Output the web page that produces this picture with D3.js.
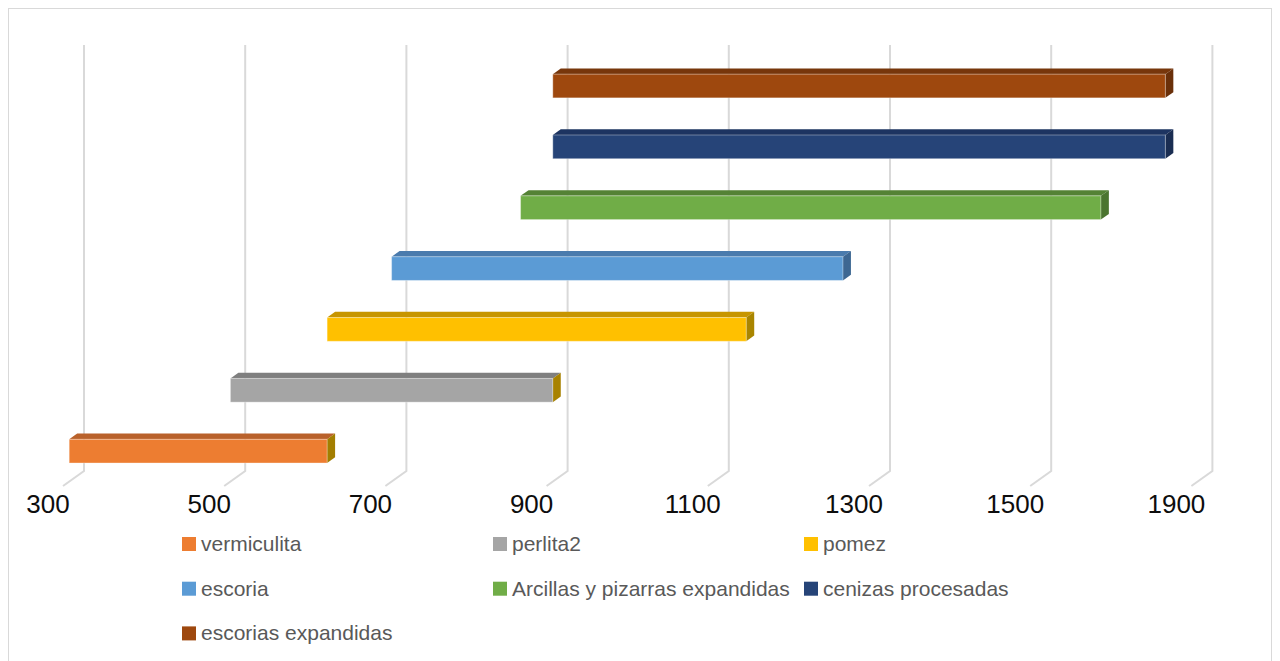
<!DOCTYPE html>
<html>
<head>
<meta charset="utf-8">
<script src="https://cdn.jsdelivr.net/npm/d3@7"></script>
<style>
  html, body { margin: 0; padding: 0; background: #fff; }
  svg { display: block; }
</style>
</head>
<body>
<svg id="chart" width="1280" height="661"></svg>
<script>
// ---------- data ----------
const categories = ["vermiculita", "perlita2", "pomez", "escoria",
  "Arcillas y pizarras expandidas", "cenizas procesadas", "escorias expandidas"];
const startValues = [300, 500, 620, 700, 860, 900, 900];
const endValues   = [620, 900, 1140, 1260, 1580, 1660, 1660];
const tickValues  = [300, 500, 700, 900, 1100, 1300, 1500, 1700];
const tickLabels  = ["300", "500", "700", "900", "1100", "1300", "1500", "1900"];

// ---------- styles ----------
const frontColors = ["#ED7D31", "#A5A5A5", "#FFC000", "#5B9BD5", "#70AD47", "#264478", "#9E480E"];
const topColors   = ["#B9612A", "#7F7F7F", "#C79500", "#4A7BAD", "#548235", "#1D3461", "#77360B"];
const sideColors  = ["#A37E00", "#A88200", "#A98500", "#3D6792", "#4B7530", "#1A2D52", "#6A300A"];

const svg = d3.select("#chart");

// outer chart border
svg.append("rect")
  .attr("x", 8.5).attr("y", 8.5).attr("width", 1263).attr("height", 700)
  .attr("fill", "none").attr("stroke", "#D9D9D9").attr("stroke-width", 1);

// back plane geometry
const backTop = 45, backBottom = 471;
const floorDx = -21, floorDy = 15;      // full depth vector (back -> front)
const fFront = 0.705, fBack = 0.325;     // bar depth fractions

const x = d3.scaleLinear().domain([300, 1700]).range([84, 1212.4]);
const y = d3.scaleBand().domain(categories.slice().reverse()).range([backTop, backBottom]).padding(0);
const barFrac = 0.39;

// gridlines (wall + floor)
const grid = svg.append("g");
tickValues.forEach(v => {
  const gx = x(v);
  grid.append("path")
    .attr("d", `M${gx},${backTop} L${gx},${backBottom} L${gx + floorDx},${backBottom + floorDy}`)
    .attr("fill", "none").attr("stroke", "#D9D9D9").attr("stroke-width", 2);
});

// axis labels
svg.append("g").selectAll("text")
  .data(tickValues)
  .join("text")
  .attr("x", v => x(v) + floorDx - 15)
  .attr("y", 513)
  .attr("text-anchor", "middle")
  .attr("font-family", "Liberation Sans, Arial, sans-serif")
  .attr("font-size", 26)
  .attr("fill", "#0D0D0D")
  .text((v, i) => tickLabels[i]);

// bars
const ddx = (fFront - fBack) * -floorDx;   // depth offset to the right
const ddy = (fFront - fBack) * floorDy;    // depth offset upward
const bars = svg.append("g");
categories.forEach((c, i) => {
  const bw = y.bandwidth();
  const h = bw * barFrac;
  const cy = y(c) + bw / 2 + fFront * floorDy;
  const xl = x(startValues[i]) + fFront * floorDx;
  const xr = x(endValues[i]) + fFront * floorDx;
  const yt = cy - h / 2, yb = cy + h / 2;
  const g = bars.append("g");
  // top face
  g.append("path")
    .attr("d", `M${xl},${yt} L${xr},${yt} L${xr + ddx},${yt - ddy} L${xl + ddx},${yt - ddy} Z`)
    .attr("fill", topColors[i]);
  // side face
  g.append("path")
    .attr("d", `M${xr},${yt} L${xr + ddx},${yt - ddy} L${xr + ddx},${yb - ddy} L${xr},${yb} Z`)
    .attr("fill", sideColors[i]);
  // front face
  g.append("rect")
    .attr("x", xl).attr("y", yt).attr("width", xr - xl).attr("height", h)
    .attr("fill", frontColors[i])
    .attr("stroke", "rgba(255,255,255,0.35)").attr("stroke-width", 1);
});

// legend
const legendCols = 3, colX0 = 182, colStep = 311, rowY0 = 551, rowStep = 44.7;
const legend = svg.append("g");
categories.forEach((c, i) => {
  const col = i % legendCols, row = Math.floor(i / legendCols);
  const lx = colX0 + col * colStep, ly = rowY0 + row * rowStep;
  legend.append("rect")
    .attr("x", lx).attr("y", ly - 14).attr("width", 14).attr("height", 14)
    .attr("fill", frontColors[i]);
  legend.append("text")
    .attr("x", lx + 19).attr("y", ly)
    .attr("font-family", "Liberation Sans, Arial, sans-serif")
    .attr("font-size", 21)
    .attr("fill", "#595959")
    .text(c);
});
</script>
</body>
</html>
